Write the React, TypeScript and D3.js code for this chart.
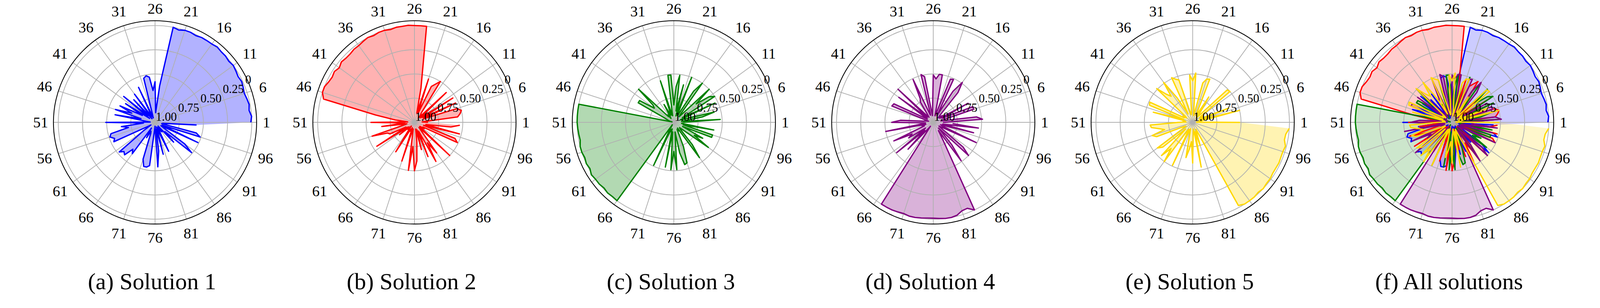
import * as d3 from "d3"

// point index around the circle (1..100), ticks every 5th point
const categories = d3.range(1, 101)
const angleTicks = [1, 6, 11, 16, 21, 26, 31, 36, 41, 46, 51, 56, 61, 66, 71, 76, 81, 86, 91, 96]
const radialTicks = [1, 0.75, 0.5, 0.25, 0]
const radialTickLabels = ["1.00", "0.75", "0.50", "0.25", "0"]

const solution1 = [
  0.01, 0.0, 0.02, 0.01, 0.02, 0.03, 0.02, 0.01, 0.02, 0.01,
  0.0, 0.01, 0.0, 0.0, -0.01, 0.0, 0.0, 0.0, 0.01, 0.0,
  0.0, 0.015, 0.0, 0.62, 0.9, 0.58, 0.67, 0.53, 0.51, 0.53,
  0.92, 0.95, 0.6, 0.93, 0.9, 0.64, 0.95, 0.68, 0.9, 0.58,
  0.93, 0.64, 0.85, 0.6, 0.74, 0.57, 0.85, 0.58, 0.9, 0.95,
  0.49, 0.88, 0.65, 0.72, 0.53, 0.51, 0.55, 0.53, 0.9, 0.95,
  0.85, 0.52, 0.56, 0.54, 0.64, 0.6, 0.93, 0.82, 0.9, 0.88,
  0.6, 0.53, 0.53, 0.55, 0.92, 0.96, 0.54, 0.7, 0.93, 0.66,
  0.95, 0.88, 0.67, 0.94, 0.9, 0.88, 0.95, 0.72, 0.86, 0.51,
  0.62, 0.9, 0.93, 0.51, 0.92, 0.51, 0.56, 0.93, 0.92, 0.57,
]

const solution2 = [
  0.86, 0.92, 0.55, 0.52, 0.5, 0.54, 0.9, 0.53, 0.9, 0.53,
  0.92, 0.88, 0.55, 0.93, 0.9, 0.88, 0.5, 0.55, 0.59, 0.9,
  0.53, 0.9, 0.64, 0.0, 0.0, 0.0, -0.005, 0.0, 0.0, 0.01,
  0.0, 0.0, 0.01, 0.0, 0.01, 0.02, 0.02, 0.03, 0.03, 0.02,
  0.04, 0.02, 0.03, 0.02, 0.0, 0.0, 0.03, 0.59, 0.8, 0.93,
  0.55, 0.9, 0.66, 0.92, 0.88, 0.54, 0.7, 0.72, 0.9, 0.54,
  0.92, 0.8, 0.93, 0.9, 0.95, 0.88, 0.64, 0.92, 0.9, 0.94,
  0.58, 0.9, 0.93, 0.5, 0.75, 0.5, 0.6, 0.8, 0.93, 0.71,
  0.92, 0.62, 0.9, 0.54, 0.75, 0.61, 0.9, 0.93, 0.5, 0.9,
  0.93, 0.88, 0.9, 0.51, 0.55, 0.9, 0.52, 0.88, 0.62, 0.53,
]

const solution3 = [
  0.9, 0.52, 0.92, 0.7, 0.57, 0.9, 0.93, 0.53, 0.9, 0.5,
  0.55, 0.7, 0.5, 0.92, 0.9, 0.5, 0.62, 0.92, 0.9, 0.5,
  0.93, 0.6, 0.88, 0.51, 0.63, 0.82, 0.51, 0.51, 0.93, 0.9,
  0.55, 0.92, 0.9, 0.79, 0.93, 0.95, 0.9, 0.92, 0.5, 0.72,
  0.75, 0.58, 0.58, 0.9, 0.93, 0.95, 0.98, 0.0, 0.0, 0.0,
  0.0, 0.005, 0.01, 0.015, 0.0, 0.0, 0.01, 0.0, 0.01, -0.01,
  0.0, 0.0, 0.01, 0.0, 0.005, 0.0, 0.97, 0.9, 0.51, 0.92,
  0.9, 0.93, 0.53, 0.9, 0.51, 0.7, 0.51, 0.9, 0.68, 0.55,
  0.56, 0.73, 0.92, 0.9, 0.93, 0.55, 0.7, 0.9, 0.92, 0.88,
  0.56, 0.75, 0.66, 0.9, 0.58, 0.58, 0.9, 0.58, 0.92, 0.9,
]

const solution4 = [
  0.9, 0.49, 0.55, 0.92, 0.9, 0.56, 0.56, 0.9, 0.59, 0.92,
  0.88, 0.9, 0.93, 0.9, 0.6, 0.49, 0.62, 0.92, 0.51, 0.52,
  0.9, 0.93, 0.5, 0.5, 0.55, 0.51, 0.88, 0.93, 0.52, 0.49,
  0.9, 0.92, 0.51, 0.72, 0.75, 0.9, 0.93, 0.9, 0.5, 0.92,
  0.56, 0.9, 0.93, 0.55, 0.54, 0.9, 0.95, 0.92, 0.9, 0.66,
  0.57, 0.92, 0.9, 0.5, 0.92, 0.88, 0.9, 0.55, 0.75, 0.7,
  0.9, 0.51, 0.88, 0.62, 0.9, 0.95, 0.0, 0.0, 0.0, 0.005,
  0.01, 0.0, 0.0, 0.005, 0.01, 0.01, 0.005, 0.0, 0.0, 0.01,
  0.04, 0.045, 0.0, 0.79, 0.9, 0.51, 0.7, 0.92, 0.5, 0.6,
  0.9, 0.93, 0.88, 0.51, 0.9, 0.92, 0.57, 0.9, 0.53, 0.8,
]

const solution5 = [
  0.51, 0.96, 0.92, 0.9, 0.5, 0.93, 0.6, 0.9, 0.92, 0.88,
  0.9, 0.5, 0.51, 0.9, 0.93, 0.85, 0.69, 0.9, 0.92, 0.52,
  0.53, 0.58, 0.9, 0.93, 0.49, 0.57, 0.51, 0.9, 0.92, 0.88,
  0.54, 0.52, 0.49, 0.9, 0.7, 0.49, 0.65, 0.6, 0.49, 0.9,
  0.92, 0.88, 0.9, 0.51, 0.52, 0.9, 0.58, 0.92, 0.9, 0.93,
  0.85, 0.56, 0.57, 0.65, 0.7, 0.56, 0.6, 0.9, 0.92, 0.88,
  0.55, 0.6, 0.9, 0.53, 0.65, 0.5, 0.9, 0.92, 0.51, 0.9,
  0.93, 0.88, 0.63, 0.72, 0.8, 0.58, 0.9, 0.93, 0.53, 0.9,
  0.75, 0.9, 0.92, 0.02, 0.0, 0.0, 0.0, 0.01, 0.0, 0.01,
  0.01, 0.02, 0.02, 0.015, 0.02, 0.02, 0.01, 0.035, 0.03, 0.0,
]

const solutions = [solution1, solution2, solution3, solution4, solution5]
const colors = ["#0000ff", "#ff0000", "#008000", "#800080", "#ffd700"]
const captions = [
  "(a) Solution 1",
  "(b) Solution 2",
  "(c) Solution 3",
  "(d) Solution 4",
  "(e) Solution 5",
  "(f) All solutions",
]

const width = 4252
const height = 788
const centerY = 325
const firstCenterX = 412
const panelStep = 689.4
const outerRadius = 270
const angleFont = 40
const font = "'Liberation Serif', 'Times New Roman', serif"

// radial axis is inverted: 1 at the centre, 0 near the rim
const r = d3.scaleLinear().domain([1, -0.05]).range([0, outerRadius])
// index -> angle (counter-clockwise from east, like matplotlib)
const theta = d3.scaleLinear().domain([1, 101]).range([0, 2 * Math.PI])

const radial = d3
  .lineRadial<number>()
  .angle((_, i) => Math.PI / 2 - theta(categories[i]))
  .radius((d) => r(d))

const toXY = (a: number, rad: number): [number, number] => [rad * Math.cos(a), -rad * Math.sin(a)]

interface PanelProps {
  cx: number
  series: number[][]
  seriesColors: string[]
  fillOpacity: number
  caption: string
}

function Panel({ cx, series, seriesColors, fillOpacity, caption }: PanelProps) {
  const labelAngle = Math.PI / 8
  return (
    <g>
      <g transform={`translate(${cx},${centerY})`}>
        {/* fills */}
        {series.map((s, k) => (
          <path key={`f${k}`} d={(radial(s) || "") + "Z"} fill={seriesColors[k]} fillOpacity={fillOpacity} stroke="none" />
        ))}

        {/* grid */}
        {radialTicks
          .filter((t) => t < 1)
          .map((t) => (
            <circle key={`ring${t}`} r={r(t)} fill="none" stroke="#b0b0b0" strokeWidth={2} />
          ))}
        {angleTicks.map((t) => {
          const [x, y] = toXY(theta(t), outerRadius)
          return <line key={`spoke${t}`} x1={0} y1={0} x2={x} y2={y} stroke="#b0b0b0" strokeWidth={2} />
        })}

        {/* lines */}
        {series.map((s, k) => (
          <path
            key={`l${k}`}
            d={radial(s) || ""}
            fill="none"
            stroke={seriesColors[k]}
            strokeWidth={3.5}
            strokeLinejoin="round"
          />
        ))}

        {/* spine */}
        <circle r={outerRadius} fill="none" stroke="#000" strokeWidth={2.2} />

        {/* angular tick labels */}
        {angleTicks.map((t) => {
          const a = theta(t)
          const label = String(t)
          const halfW = label.length * 8
          const rad = 288 + Math.abs(Math.cos(a)) * halfW + Math.abs(Math.sin(a)) * 18
          const [x, y0] = toXY(a, rad)
          // keep the glyph box inside the page at the top
          const y = Math.max(y0, 0.56 * angleFont - centerY)
          return (
            <text
              key={`at${t}`}
              x={x}
              y={y}
              textAnchor="middle"
              dominantBaseline="central"
              fontSize={angleFont}
              fontFamily={font}
              fill="#000"
            >
              {label}
            </text>
          )
        })}

        {/* radial tick labels */}
        {radialTicks.map((t, i) => {
          const [x, y] = toXY(labelAngle, r(t))
          return (
            <text key={`rt${t}`} x={x + 2} y={y - 4} fontSize={32} fontFamily={font} fill="#000">
              {radialTickLabels[i]}
            </text>
          )
        })}
      </g>
      <text x={cx - 8} y={768} textAnchor="middle" fontSize={62} fontFamily={font} fill="#000">
        {caption}
      </text>
    </g>
  )
}

export default function App() {
  // the svg scales with the viewport so the whole figure always fits
  return (
    <svg
      viewBox={`0 0 ${width} ${height}`}
      preserveAspectRatio="xMinYMin meet"
      style={{ position: "absolute", left: 0, top: 0, width: "100%", height: "auto", display: "block", background: "#fff" }}
    >
      <rect width={width} height={height} fill="#fff" />
      {solutions.map((s, k) => (
        <Panel
          key={k}
          cx={firstCenterX + k * panelStep}
          series={[s]}
          seriesColors={[colors[k]]}
          fillOpacity={0.3}
          caption={captions[k]}
        />
      ))}
      <Panel
        cx={firstCenterX + 5 * panelStep}
        series={solutions}
        seriesColors={colors}
        fillOpacity={0.2}
        caption={captions[5]}
      />
    </svg>
  )
}
